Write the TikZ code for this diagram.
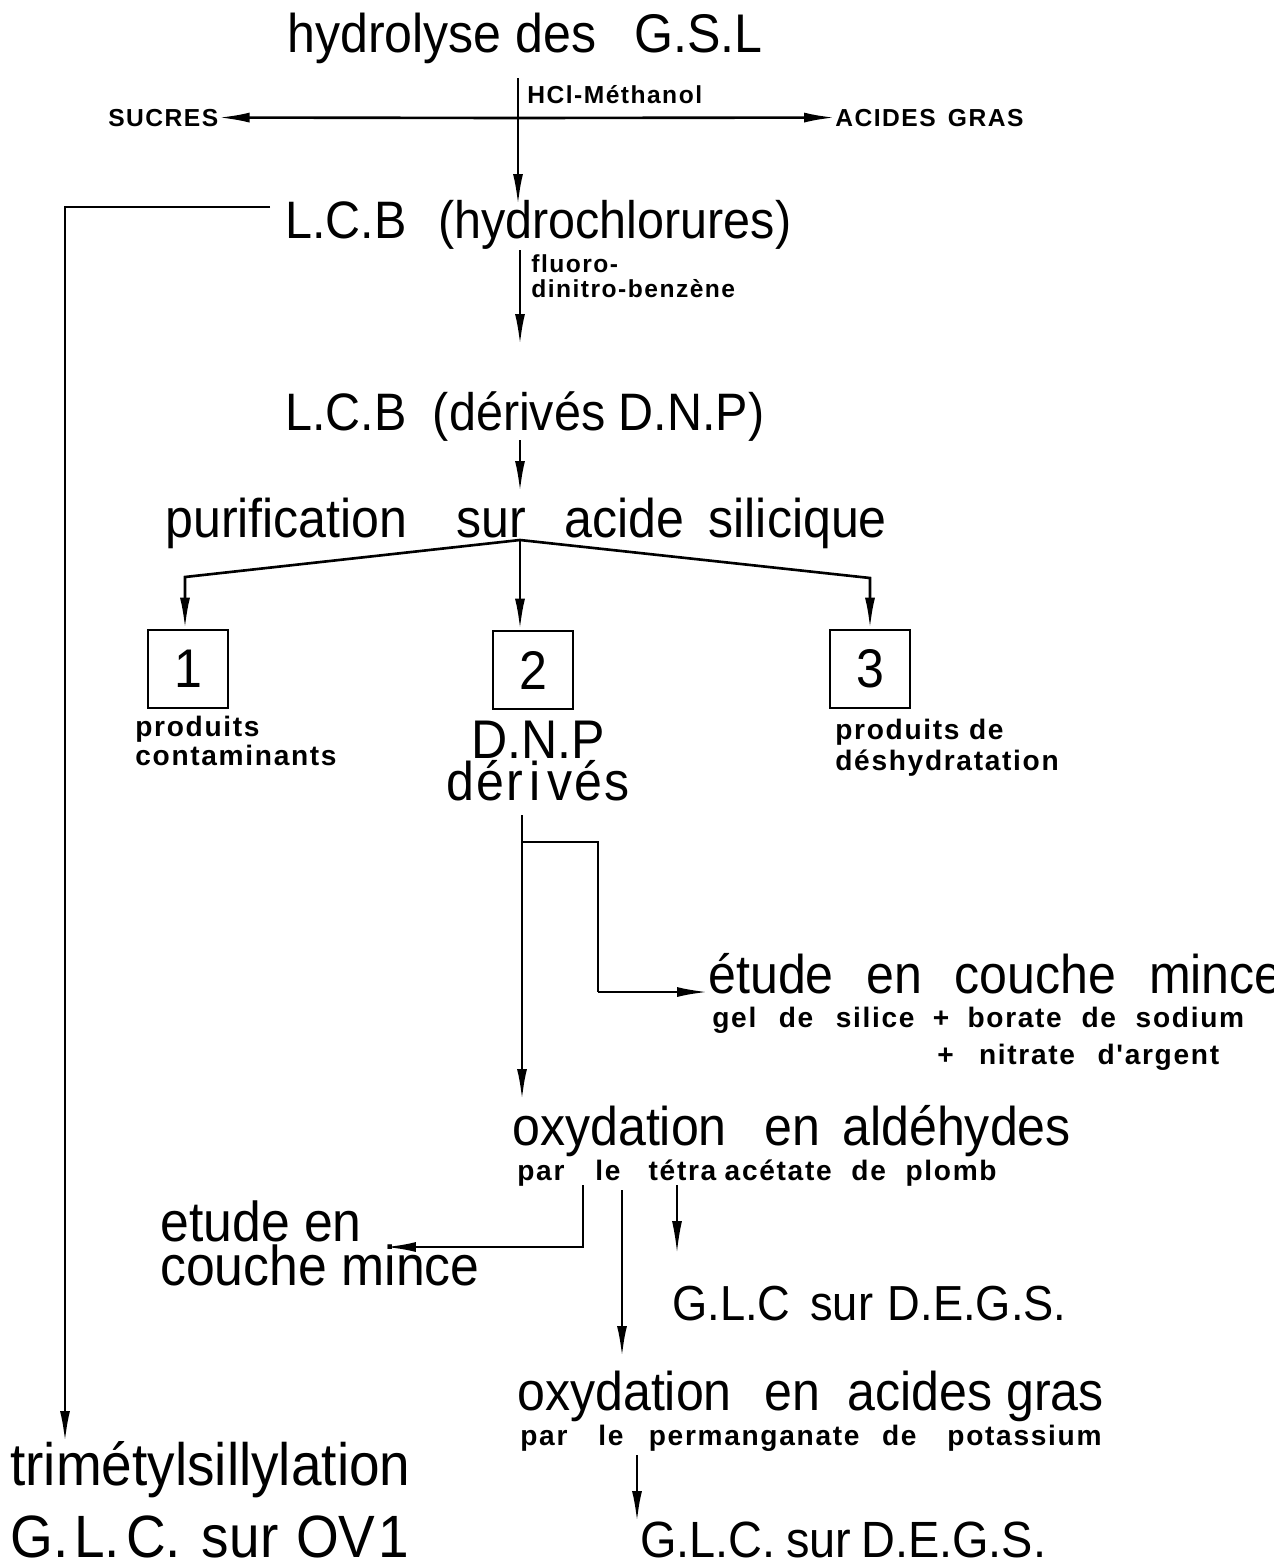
\documentclass[tikz,border=0pt]{standalone}
\usepackage{fontspec}
\setmainfont{Liberation Sans}[FakeStretch=0.92]
\newfontfamily\notefont{Liberation Sans}[LetterSpace=6]
\usetikzlibrary{positioning,arrows.meta,calc}

\begin{document}
\begin{tikzpicture}[x=0.02cm,y=-0.02cm,
   >={Latex[length=0.62cm,width=0.2cm]},
   every node/.style={inner sep=0pt},
   gros/.style={font=\fontsize{31}{34}\selectfont},
   moyen/.style={font=\fontsize{29}{30}\selectfont},
   note/.style={font=\notefont\fontsize{16}{16}\selectfont\bfseries,align=left},
   reactif/.style={font=\notefont\fontsize{14}{14}\selectfont\bfseries,align=left},
   fleche/.style={->,line width=1.5pt},
   trait/.style={line width=1.5pt},
   casier/.style={draw,line width=1.5pt,minimum width=1.6cm,minimum height=1.56cm,
     font=\fontsize{31}{32}\selectfont}]
  \useasboundingbox (0,0) rectangle (1274,1565);

  % hydrolyse
  \node[gros,anchor=base west] (gsl) at (287,52) {hydrolyse des\hspace{0.7em}G.S.L};
  \node[reactif,anchor=base west] (hcl) at (527,103) {HCl-Méthanol};
  \node[reactif,anchor=base west] (sucres) at (108,126) {SUCRES};
  \node[reactif,anchor=base west] (gras) at (835,126) {ACIDES\hspace{0.5em}GRAS};
  \coordinate (hclhaut) at (518,78);
  \coordinate (jonc) at (518,118);
  \coordinate (hclbas) at (518,205);
  \draw[fleche] (hclhaut) -- (hclbas);
  \draw[fleche] (jonc) -- (sucres.east);
  \draw[fleche] (jonc) -- (gras.west);

  % L.C.B
  \node[gros,anchor=base west,font=\fontsize{30}{32}\selectfont] (lcbh) at (285,238) {L.C.B\hspace{0.6em}(hydrochlorures)};
  \node[reactif,anchor=base west] (fdnb) at (531,297) {fluoro-\\dinitro-benzène};
  \coordinate (fhaut) at (520,250);
  \coordinate (fbas) at (520,345);
  \draw[fleche] (fhaut) -- (fbas);
  \node[gros,anchor=base west,font=\fontsize{30}{32}\selectfont] (lcbd) at (285,430) {L.C.B\hspace{0.5em}(dérivés D.N.P)};
  \coordinate (dhaut) at (520,440);
  \coordinate (dbas) at (520,492);
  \draw[fleche] (dhaut) -- (dbas);

  % purification
  \node[gros,anchor=base west] (purif) at (165,537) {purification\hspace{0.9em}sur\hspace{0.7em}acide\hspace{0.45em}silicique};
  \coordinate (split) at (520,540);
  \node[casier] (b1) at (188,669) {1};
  \node[casier] (b2) at (533,670) {2};
  \node[casier] (b3) at (870,669) {3};
  \coordinate (g1) at (185,577);
  \coordinate (g3) at (870,578);
  \draw[fleche] (split) -- (g1) -- (b1.north -| g1);
  \draw[fleche] (split) -- (split |- b2.north);
  \draw[fleche] (split) -- (g3) -- (b3.north);

  \node[note,anchor=base west] (contam) at (135,765) {produits\\contaminants};
  \node[align=center,anchor=base,font=\fontsize{31}{22.7}\selectfont] (dnp) at (538,800) {D.N.P\\d\hspace{0.04em}é\hspace{0.04em}r\hspace{0.12em}i\hspace{0.12em}v\hspace{0.04em}é\hspace{0.04em}s};
  \node[note,anchor=base west,font=\notefont\fontsize{16}{17.5}\selectfont\bfseries] (deshyd) at (835,770) {produits de\\déshydratation};

  % etude en couche mince
  \coordinate (dnpbas) at (522,815);
  \coordinate (coude) at (522,842);
  \coordinate (coude2) at (598,842);
  \coordinate (coude3) at (598,992);
  \node[gros,anchor=base west] (ccm) at (708,993) {étude\hspace{0.6em}en\hspace{0.6em}couche\hspace{0.6em}mince};
  \node[note,anchor=base west] (gel) at (712,1027) {gel\hspace{0.8em}de\hspace{0.8em}silice\hspace{0.65em}+\hspace{0.65em}borate\hspace{0.7em}de\hspace{0.7em}sodium};
  \node[note,anchor=base west] (nitr) at (937,1064) {+\hspace{0.9em}nitrate\hspace{0.8em}d'argent};
  \draw[trait] (coude) -- (coude2) -- (coude3);
  \draw[fleche] (coude3) -- (ccm.west |- coude3);

  % oxydation en aldehydes
  \node[gros,anchor=base west] (oxald) at (512,1145) {oxydation\hspace{0.7em}en\hspace{0.4em}aldéhydes};
  \node[note,anchor=base west] (pb) at (517,1180) {par\hspace{1.1em}le\hspace{1em}tétra\hspace{0.3em}acétate\hspace{0.7em}de\hspace{0.7em}plomb};
  \coordinate (oxhaut) at (522,1100);
  \draw[fleche] (dnpbas) -- (oxhaut);

  \node[align=left,anchor=base west,font=\fontsize{32}{21.5}\selectfont] (ccm2) at (160,1285) {etude en\\couche mince};
  \coordinate (a1) at (583,1185);
  \coordinate (a2) at (583,1247);
  \coordinate (a3) at (385,1247);
  \draw[fleche] (a1) -- (a2) -- (a3);

  \node[moyen,anchor=base west,font=\fontsize{28}{30}\selectfont] (degs1) at (672,1320) {G.L.C\hspace{0.4em}sur\hspace{0.3em}D.E.G.S.};
  \coordinate (b1h) at (677,1185);
  \coordinate (b1b) at (677,1252);
  \draw[->,line width=0.8pt] (b1h) -- (b1b);

  % oxydation en acides gras
  \node[gros,anchor=base west] (oxac) at (517,1410) {oxydation\hspace{0.6em}en\hspace{0.5em}acides gras};
  \node[note,anchor=base west] (kmn) at (520,1445) {par\hspace{1.1em}le\hspace{0.9em}permanganate\hspace{0.8em}de\hspace{1.1em}potassium};
  \coordinate (c1) at (622,1190);
  \coordinate (c2) at (622,1357);
  \draw[fleche] (c1) -- (c2);
  \node[moyen,anchor=base west] (degs2) at (640,1557) {G.L.C.\hspace{0.2em}sur\hspace{0.2em}D.E.G.S.};
  \coordinate (k1) at (637,1455);
  \coordinate (k2) at (637,1522);
  \draw[fleche] (k1) -- (k2);

  % trimetylsillylation
  \node[anchor=base west,font=\fontsize{34}{36}\selectfont] (tms) at (10,1485) {trimétylsillylation};
  \node[anchor=base west,font=\fontsize{34}{36}\selectfont] (ov1) at (10,1557) {G.\hspace{0.1em}L.\hspace{0.1em}C.\hspace{0.35em}sur\hspace{0.3em}OV\hspace{0.05em}1};
  \coordinate (l1) at (270,207);
  \coordinate (l2) at (65,207);
  \coordinate (l3) at (65,1442);
  \draw[fleche] (l1) -- (l2) -- (l3);
\end{tikzpicture}
\end{document}
